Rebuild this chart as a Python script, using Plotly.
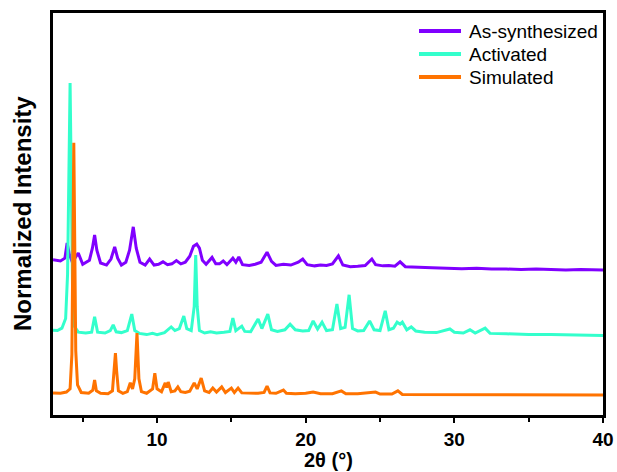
import plotly.graph_objects as go

# ---- data (2θ in degrees, stacked normalized intensity) ----
as_syn_x = [3.0, 3.5, 3.8, 3.95, 4.1, 4.3, 4.7, 5.0, 5.45, 5.65, 5.8, 5.95, 6.2, 6.6, 6.9, 7.15, 7.35,
            7.6, 7.9, 8.15, 8.4, 8.6, 8.85, 9.2, 9.5, 9.8, 10.1, 10.4, 10.7, 11.0, 11.3, 11.6, 11.9,
            12.2, 12.45, 12.67, 12.85, 13.05, 13.3, 13.7, 13.95, 14.2, 14.45, 14.7, 15.1, 15.3, 15.5,
            15.75, 16.2, 16.6, 17.0, 17.4, 17.7, 18.0, 18.5, 19.0, 19.5, 19.8, 20.1, 20.6, 21.0, 21.4,
            21.8, 22.2, 22.5, 23.0, 23.5, 24.0, 24.45, 24.7, 25.2, 25.6, 26.0, 26.35, 26.7, 27.5, 28.5,
            29.5, 30.5, 31.5, 32.5, 33.5, 34.5, 35.5, 36.5, 37.5, 38.5, 40.0]
as_syn_y = [38.6, 38.3, 39.0, 42.8, 40.0, 38.0, 40.3, 37.5, 38.5, 41.5, 44.8, 41.0, 37.8, 37.3, 38.8, 41.8, 39.0,
            37.3, 38.0, 41.0, 46.8, 41.5, 38.0, 37.3, 38.8, 37.3, 37.5, 38.1, 37.4, 37.6, 38.4, 37.6, 38.0,
            39.5, 42.0, 42.5, 41.5, 38.5, 37.5, 39.2, 37.6, 37.6, 38.3, 37.4, 39.0, 38.0, 39.3,
            37.4, 37.2, 37.5, 38.0, 40.5, 38.2, 37.2, 37.5, 37.3, 38.0, 38.8, 37.4, 37.1, 37.3, 37.2,
            37.6, 39.6, 37.3, 36.9, 37.0, 37.2, 38.8, 37.4, 37.1, 37.2, 37.0, 38.1, 36.9, 36.7, 36.6,
            36.5, 36.4, 36.5, 36.3, 36.3, 36.2, 36.3, 36.2, 36.1, 36.2, 36.1]

act_x = [3.0, 3.3, 3.6, 3.85, 3.98, 4.06, 4.15, 4.24, 4.32, 4.45, 4.7, 5.2, 5.6, 5.8, 6.0, 6.5, 6.85,
         7.05, 7.25, 7.6, 8.0, 8.3, 8.5, 8.8, 9.3, 9.7, 10.0, 10.5, 10.95, 11.2, 11.5, 11.8, 12.0,
         12.3, 12.5, 12.6, 12.7, 12.85, 13.2, 13.6, 14.0, 14.5, 14.9, 15.1, 15.3, 15.7, 15.9, 16.3,
         16.8, 17.05, 17.45, 17.7, 18.1, 18.6, 18.95, 19.3, 19.8, 20.2, 20.5, 20.8, 21.1, 21.4, 21.8,
         22.1, 22.35, 22.65, 22.92, 23.15, 23.5, 23.9, 24.3, 24.6, 25.0, 25.35, 25.6, 25.9, 26.15,
         26.35, 26.5, 26.8, 27.1, 27.4, 28.0, 28.8, 29.7, 30.0, 30.6, 31.05, 31.4, 32.07, 32.4, 33.5,
         35.0, 36.5, 38.0, 40.0]
act_y = [21.1, 21.0, 21.6, 24.0, 35.0, 60.0, 82.6, 55.0, 30.0, 22.0, 20.6, 20.4, 20.6, 24.4, 20.6, 20.4, 21.0,
         22.4, 20.7, 20.5, 21.0, 25.1, 21.0, 20.3, 20.0, 20.3, 20.0, 20.5, 21.9, 21.0, 21.5, 24.6, 21.5,
         21.0, 27.0, 39.8, 27.0, 21.0, 20.4, 20.7, 20.4, 20.6, 20.8, 24.1, 21.0, 22.1, 20.8, 20.7,
         23.9, 21.5, 25.1, 21.2, 20.8, 21.2, 22.6, 21.2, 20.9, 21.0, 23.4, 21.4, 23.1, 21.0, 21.2,
         27.6, 21.5, 21.8, 29.9, 21.5, 20.9, 21.0, 23.4, 21.2, 21.0, 25.9, 21.2, 21.6, 23.1,
         22.6, 23.1, 21.2, 21.9, 20.9, 20.6, 20.5, 21.4, 20.6, 20.4, 21.2, 20.4, 21.6, 20.3, 20.2,
         20.0, 20.0, 19.9, 19.8]

sim_x = [3.0, 3.5, 3.9, 4.15, 4.27, 4.33, 4.4, 4.47, 4.53, 4.65, 4.9, 5.4, 5.68, 5.8, 5.92, 6.2, 6.7,
         7.0, 7.12, 7.2, 7.28, 7.4, 7.7, 8.0, 8.2, 8.35, 8.5, 8.65, 8.78, 8.95, 9.3, 9.7, 9.85, 10.0,
         10.3, 10.55, 10.65, 10.75, 10.95, 11.2, 11.4, 11.6, 11.9, 12.2, 12.5, 12.7, 12.97, 13.2, 13.5,
         13.75, 14.0, 14.35, 14.6, 15.0, 15.2, 15.45, 15.7, 16.2, 16.8, 17.2, 17.4, 17.6, 18.0, 18.5,
         18.7, 19.3, 20.0, 20.5, 21.0, 21.8, 22.4, 22.7, 23.5, 24.7, 25.0, 25.8, 26.2, 26.5, 28.0,
         30.0, 32.0, 34.0, 36.0, 38.0, 40.0]
sim_y = [5.5, 5.4, 5.7, 6.5, 15.0, 40.0, 67.7, 40.0, 16.0, 7.5, 5.6, 5.4, 6.2, 8.7, 6.0, 5.4, 5.3,
         6.0, 11.0, 15.4, 11.0, 6.0, 5.4, 5.8, 8.0, 6.5, 9.0, 20.4, 9.0, 5.8, 5.4, 6.5, 10.4, 6.5,
         5.8, 8.0, 6.8, 8.2, 5.8, 6.0, 7.0, 5.8, 5.6, 5.9, 8.0, 6.5, 9.2, 6.0, 5.6,
         6.7, 5.7, 7.0, 5.6, 6.7, 5.6, 6.7, 5.5, 5.4, 5.4, 5.6, 7.2, 5.5, 5.4, 6.2,
         5.4, 5.3, 5.4, 5.7, 5.3, 5.3, 6.0, 5.3, 5.3, 5.7, 5.2, 5.2, 6.0, 5.1, 5.1,
         5.1, 5.0, 5.0, 5.0, 5.0, 5.0]

series_names = ["As-synthesized", "Activated", "Simulated"]
series_colors = ["#8000FF", "#33FFCC", "#FF7300"]
x_tick_vals = [10, 20, 30, 40]
x_title = "2θ (°)"
y_title = "Normalized Intensity"

FONT = "Liberation Sans, Arial, sans-serif"

# plot area in pixels (for converting legend placement to paper fractions)
L, R, T, B = 53, 14, 13, 57
W, H = 617, 472
PW, PH = W - L - R, H - T - B

fig = go.Figure()
for name, xs, ys, col in zip(series_names, [as_syn_x, act_x, sim_x],
                             [as_syn_y, act_y, sim_y], series_colors):
    fig.add_trace(go.Scatter(x=xs, y=ys, mode="lines", name=name, showlegend=False,
                             line=dict(color=col, width=3)))

# hand-built legend (tighter row spacing than plotly's built-in legend)
shapes, annotations = [], []
for i, (name, col) in enumerate(zip(series_names, series_colors)):
    ypx = 31 + 23 * i
    yp = (H - B - ypx) / PH
    shapes.append(dict(type="line", xref="paper", yref="paper",
                       x0=(419 - L) / PW, x1=(461 - L) / PW, y0=yp, y1=yp,
                       line=dict(color=col, width=4)))
    annotations.append(dict(xref="paper", yref="paper", x=(467 - L) / PW, y=yp,
                            xanchor="left", yanchor="middle", showarrow=False,
                            text=name, font=dict(family=FONT, size=19, color="black")))

# axis titles
annotations.append(dict(xref="paper", yref="paper", x=0.5, y=0, yshift=-45,
                        xanchor="center", yanchor="middle", showarrow=False, borderpad=0,
                        text="<b>%s</b>" % x_title, font=dict(family=FONT, size=20, color="black")))
annotations.append(dict(xref="paper", yref="paper", x=0, y=0.5, xshift=-31,
                        xanchor="center", yanchor="middle", showarrow=False, textangle=-90,
                        text="<b>%s</b>" % y_title, font=dict(family=FONT, size=24, color="black")))

fig.update_layout(
    width=W, height=H,
    margin=dict(l=L, r=R, t=T, b=B, autoexpand=False),
    paper_bgcolor="white", plot_bgcolor="white",
    showlegend=False,
    font=dict(family=FONT, color="black"),
    shapes=shapes, annotations=annotations,
)

fig.update_xaxes(
    range=[3, 40], tickvals=x_tick_vals, ticks="outside", ticklen=5, tickwidth=2,
    tickcolor="black", automargin=False,
    minor=dict(tickvals=[5, 15, 25, 35], ticks="outside", ticklen=4, tickwidth=2, tickcolor="black"),
    showline=True, linecolor="black", linewidth=3, mirror=True, showgrid=False, zeroline=False,
    tickfont=dict(family=FONT, size=19, color="black", weight="bold"),
)
fig.update_yaxes(
    range=[0, 100], showticklabels=False, ticks="", automargin=False,
    showline=True, linecolor="black", linewidth=3, mirror=True, showgrid=False, zeroline=False,
)

fig.write_html("out.html")
